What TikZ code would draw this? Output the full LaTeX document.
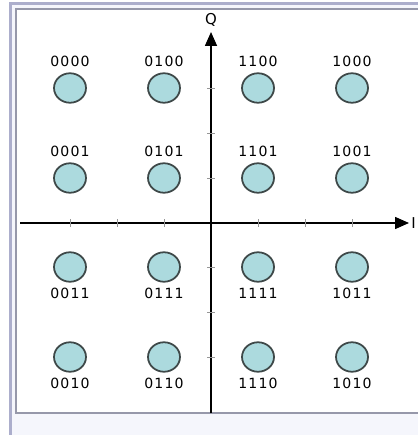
\documentclass[tikz,border=0pt]{standalone}
\usepackage{fontspec}
\setmainfont{DejaVu Sans}
\newfontfamily\bitfont[LetterSpace=8]{DejaVu Sans}
\usetikzlibrary{
	arrows.meta,
	positioning,
	shapes.geometric
}
\definecolor{FrameLine}{RGB}{172,174,204}
\definecolor{PanelBg}{RGB}{245,246,252}
\definecolor{BoxLine}{RGB}{150,152,170}
\definecolor{DotFill}{RGB}{172,218,222}
\definecolor{DotLine}{RGB}{62,72,72}
\definecolor{TickGray}{RGB}{150,150,150}

\begin{document}
\begin{tikzpicture}[x=0.02cm, y=-0.02cm,
	dot/.style={ellipse, draw=DotLine, fill=DotFill, line width=1pt,
		minimum width=0.64cm, minimum height=0.59cm, inner sep=0pt},
	bits/.style={font=\bitfont\fontsize{8}{9}\selectfont, inner sep=0pt},
	axislabel/.style={font=\fontsize{8.5}{9}\selectfont, inner sep=0pt},
	node distance=0.11cm]
			\useasboundingbox (0,0) rectangle (417,435);
			% 外框与白色面板
			\fill[PanelBg] (10.5,3.5) rectangle (430,440);
			\draw[FrameLine, line width=1.2pt] (10.5,440) -- (10.5,3.5) -- (430,3.5);
			\draw[BoxLine, fill=white, line width=0.7pt] (16,413) rectangle (430,9);
			% 坐标轴
			\coordinate (O) at (211,223);
			\coordinate (Ileft) at (20,223);
			\coordinate (Iright) at (409,223);
			\coordinate (Qbottom) at (211,413);
			\coordinate (Qtop) at (211,32);
			\draw[-{Triangle[length=0.28cm, width=0.24cm]}, line width=0.9pt] (Ileft) -- (Iright);
			\draw[-{Triangle[length=0.28cm, width=0.24cm]}, line width=0.9pt] (Qbottom) -- (Qtop);
			\node[axislabel, right=0.04cm of Iright] (Ilabel) {I};
			\node[axislabel, above=0.1cm of Qtop] (Qlabel) {Q};
			% 刻度
			\draw[TickGray, line width=0.4pt] (70,219) -- (70,227) (117,219) -- (117,227) (164,219) -- (164,227)
				(258,219) -- (258,227) (305,219) -- (305,227) (352,219) -- (352,227);
			\draw[TickGray, line width=0.4pt] (207,88) -- (215,88) (207,133) -- (215,133) (207,178) -- (215,178)
				(207,267) -- (215,267) (207,312) -- (215,312) (207,357) -- (215,357);
			% 星座点（上两行，标签在上方）
			\node[dot] (p0000) at (70,88) {};
			\node[dot] (p0100) at (164,88) {};
			\node[dot] (p1100) at (258,88) {};
			\node[dot] (p1000) at (352,88) {};
			\node[dot] (p0001) at (70,178) {};
			\node[dot] (p0101) at (164,178) {};
			\node[dot] (p1101) at (258,178) {};
			\node[dot] (p1001) at (352,178) {};
			\node[bits, above=of p0000] (t0000) {0000};
			\node[bits, above=of p0100] (t0100) {0100};
			\node[bits, above=of p1100] (t1100) {1100};
			\node[bits, above=of p1000] (t1000) {1000};
			\node[bits, above=of p0001] (t0001) {0001};
			\node[bits, above=of p0101] (t0101) {0101};
			\node[bits, above=of p1101] (t1101) {1101};
			\node[bits, above=of p1001] (t1001) {1001};
			% 星座点（下两行，标签在下方）
			\node[dot] (p0011) at (70,267) {};
			\node[dot] (p0111) at (164,267) {};
			\node[dot] (p1111) at (258,267) {};
			\node[dot] (p1011) at (352,267) {};
			\node[dot] (p0010) at (70,357) {};
			\node[dot] (p0110) at (164,357) {};
			\node[dot] (p1110) at (258,357) {};
			\node[dot] (p1010) at (352,357) {};
			\node[bits, below=of p0011] (t0011) {0011};
			\node[bits, below=of p0111] (t0111) {0111};
			\node[bits, below=of p1111] (t1111) {1111};
			\node[bits, below=of p1011] (t1011) {1011};
			\node[bits, below=of p0010] (t0010) {0010};
			\node[bits, below=of p0110] (t0110) {0110};
			\node[bits, below=of p1110] (t1110) {1110};
			\node[bits, below=of p1010] (t1010) {1010};
		\end{tikzpicture}
\end{document}
